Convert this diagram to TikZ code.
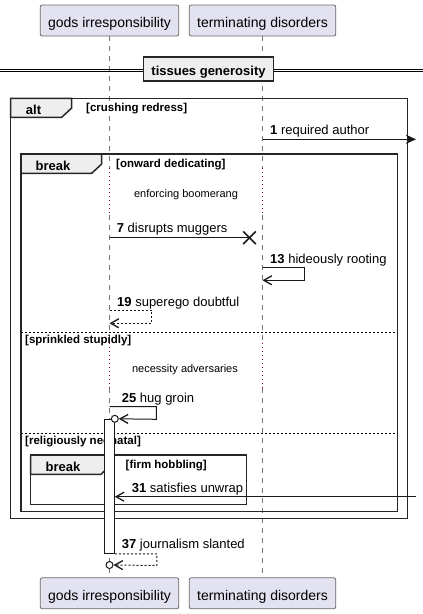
\documentclass[tikz,border=0pt]{standalone}
\usepackage{fontspec}
\setmainfont{Liberation Sans}
\usetikzlibrary{arrows.meta,shapes.misc}

\definecolor{partfill}{HTML}{E2E2F0}
\definecolor{partdraw}{HTML}{686868}
\definecolor{tabfill}{HTML}{EEEEEE}
\definecolor{delayred}{HTML}{A80036}

\tikzset{
  participant/.style={draw=partdraw, fill=partfill, rounded corners=2pt, line width=0.8pt,
    minimum height=31pt, inner sep=0pt, text height=13.6pt, text depth=0pt,
    font=\fontsize{14}{16}\selectfont},
  lifeline/.style={draw=gray!90!black, line width=0.8pt, dash pattern=on 5pt off 5pt},
  delayline/.style={draw=delayred, line width=0.9pt, dash pattern=on 1pt off 3pt},
  fragment/.style={draw=black!85, line width=1.5pt},
  fragtab/.style={draw=black!85, fill=tabfill, line width=1.5pt},
  kw/.style={font=\fontsize{13}{15}\selectfont\bfseries, inner sep=0pt, anchor=base},
  guard/.style={font=\fontsize{11.5}{13}\selectfont\bfseries, anchor=base west, inner sep=0pt},
  msg/.style={font=\fontsize{13}{15}\selectfont, anchor=base west, inner sep=0pt},
  delaytxt/.style={font=\fontsize{11}{13}\selectfont, inner sep=0pt, anchor=base},
  msgline/.style={draw=black!90, line width=1pt},
  retline/.style={msgline, dash pattern=on 2pt off 2pt},
  openhead/.style={-{Straight Barb[length=8pt,width=9pt,line width=1.3pt]}},
  fullhead/.style={-{Stealth[length=10pt,width=9pt,inset=2.5pt]}},
  ring/.style={circle, draw=black!90, fill=white, line width=1pt, minimum size=7pt, inner sep=0pt},
}

\begin{document}
\begin{tikzpicture}[x=1pt,y=-1pt]
  \useasboundingbox (0,0) rectangle (423,614);

  % participants, top and bottom
  \node[participant, minimum width=138.5pt] (top-gods) at (109.5,20.5) {gods irresponsibility};
  \node[participant, minimum width=146.5pt] (top-term) at (262.5,20.5) {terminating disorders};
  \node[participant, minimum width=138.5pt] (bot-gods) at (109.5,593.3) {gods irresponsibility};
  \node[participant, minimum width=146.5pt] (bot-term) at (262.5,593.3) {terminating disorders};

  % lifelines, dotted where the delays are
  \foreach \p in {gods,term}{
    \draw[lifeline] (top-\p.south) -- (top-\p |- 0,168);
    \draw[delayline] (top-\p |- 0,168) -- (top-\p |- 0,215);
    \draw[lifeline] (top-\p |- 0,215) -- (top-\p |- 0,343);
    \draw[delayline] (top-\p |- 0,343) -- (top-\p |- 0,388);
    \draw[lifeline] (top-\p |- 0,388) -- (bot-\p.north);
  }

  % divider
  \draw[line width=0.9pt] (0,69.3) -- (423,69.3) (0,71.9) -- (423,71.9);
  \node[draw=black!85, fill=tabfill, line width=1.6pt, minimum width=130pt, minimum height=24pt,
    inner sep=0pt, text height=12pt, text depth=0pt,
    font=\fontsize{13}{15}\selectfont\bfseries] (tissues) at (208.5,69) {tissues generosity};

  % alt
  \draw[fragment] (10.5,98.3) rectangle (407.5,518.5);
  \draw[fragtab] (10.5,98.3) -- (71.7,98.3) -- (71.7,108) -- (61.7,117.3) -- (10.5,117.3) -- cycle;
  \node[kw] (alt) at (33.5,114.3) {alt};
  \node[guard] (crushing) at (86,111.7) {[crushing redress]};

  % outer break
  \draw[fragment] (21,154) rectangle (397.7,511.5);
  \draw[fragtab] (21,154) -- (101.7,154) -- (101.7,164) -- (91.7,173.3) -- (21,173.3) -- cycle;
  \node[kw] (brk1) at (53,170) {break};
  \node[guard] (onward) at (116,167.4) {[onward dedicating]};

  % else parts
  \draw[line width=0.8pt, dash pattern=on 2pt off 2pt] (21,332.3) -- (397.7,332.3);
  \node[guard] (sprinkled) at (25,343.3) {[sprinkled stupidly]};
  \draw[line width=0.8pt, dash pattern=on 2pt off 2pt] (21,433.3) -- (397.7,433.3);
  \node[guard] (religiously) at (25,444.3) {[religiously neonatal]};

  % inner break
  \draw[fragment] (30.5,455) rectangle (246.7,504.3);
  \draw[fragtab] (30.5,455) -- (111,455) -- (111,465) -- (101,474.3) -- (30.5,474.3) -- cycle;
  \node[kw] (brk2) at (63,471) {break};
  \node[guard] (firm) at (125.5,468.4) {[firm hobbling]};

  % delays
  \node[delaytxt] (enforcing) at (186,197) {enforcing boomerang};
  \node[delaytxt] (necessity) at (185,372.7) {necessity adversaries};

  % activation
  \node[draw=black!90, fill=white, line width=1pt, minimum width=10pt, minimum height=134pt,
    inner sep=0pt] (act) at (109.3,486.3) {};

  % message end points
  \coordinate (m1a) at (262.5,139.3);
  \coordinate (m1b) at (416,139.3);
  \coordinate (m7a) at (109.5,237.7);
  \coordinate (m13a) at (262.5,267.7);
  \coordinate (m13b) at (262.5,280.3);
  \coordinate (m19a) at (109.5,310);
  \coordinate (m19b) at (109.5,323.3);
  \coordinate (m25a) at (109.5,406.7);
  \coordinate (m31a) at (416,496.7);
  \coordinate (m37a) at (act.south east);
  \node[draw=black!90, cross out, line width=1.6pt, minimum size=11pt, inner sep=0pt] (x7) at (249.5,237.7) {};
  \node[ring] (c25) at (act.north east) {};
  \node[ring] (c37) at (109.5,565) {};

  % messages
  \draw[msgline, fullhead] (m1a) -- (m1b);
  \node[msg] (t1) at (270,134.8) {\textbf{1} required author};
  \draw[msgline] (m7a) -- (x7.center);
  \node[msg] (t7) at (116.7,232.7) {\textbf{7} disrupts muggers};
  \draw[msgline, openhead] (m13a) -- ++(42.2,0) -- ++(0,12.6) -- (m13b);
  \node[msg] (t13) at (270,263.3) {\textbf{13} hideously rooting};
  \draw[retline, openhead] (m19a) -- ++(42.2,0) -- ++(0,13.3) -- (m19b);
  \node[msg] (t19) at (117,306) {\textbf{19} superego doubtful};
  \draw[msgline, openhead] (m25a) -- ++(46.8,0) -- ++(0,12.6) -- (c25.east);
  \node[msg] (t25) at (121.7,402.3) {\textbf{25} hug groin};
  \draw[msgline, openhead] (m31a) -- (act.east |- m31a);
  \node[msg] (t31) at (131.7,492.2) {\textbf{31} satisfies unwrap};
  \draw[retline, openhead] (m37a) -- ++(42,0) -- ++(0,11.7) -- (c37.east);
  \node[msg] (t37) at (121.7,548.2) {\textbf{37} journalism slanted};
\end{tikzpicture}
\end{document}
